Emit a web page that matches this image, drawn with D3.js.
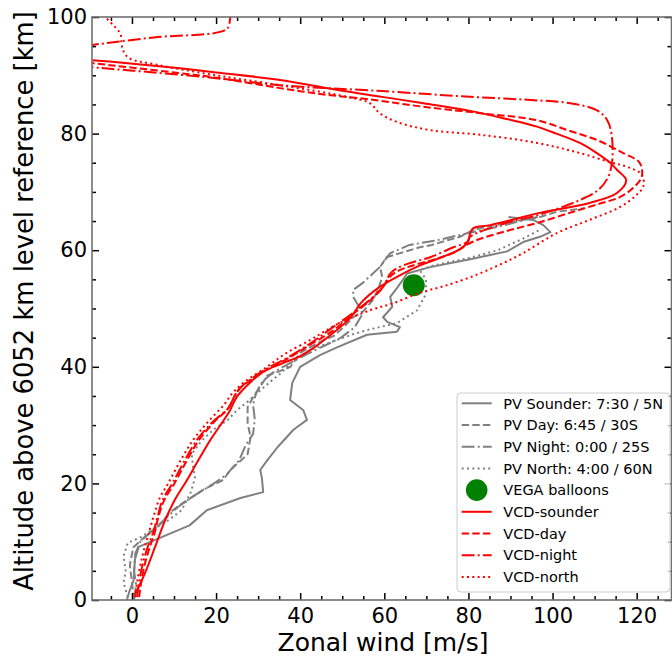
<!DOCTYPE html>
<html>
<head>
<meta charset="utf-8">
<script src="https://cdn.jsdelivr.net/npm/d3@7"></script>
<style>
  body { margin: 0; background: #fff; }
  text { font-family: "DejaVu Sans", sans-serif; }
</style>
</head>
<body>
<svg id="chart" width="672" height="656"></svg>
<script>
// profiles as [zonal wind m/s, altitude km]
var pv_sounder = [[-1.2,0],[-0.6,1.5],[0.4,3.4],[0.7,6.9],[1.6,9.1],[6.5,10.6],[13.7,12.8],[17.8,15.4],[25.8,17.5],[31.2,18.5],[30.9,20.9],[30.5,22.3],[32.2,24],[34.6,26.2],[38.4,29.2],[41.6,30.9],[40.7,32.6],[37.6,34.3],[38.1,37.2],[40,40],[44.7,42],[48.6,43.3],[55.9,45.5],[63,46],[63.7,46.8],[60.7,47.7],[59.7,48.5],[61.9,50.3],[61.4,52],[63,53.5],[64.4,54.9],[65.4,56],[70.9,57.1],[80.7,58.5],[89.2,59.8],[93,61.4],[97,62.3],[99.5,63.1],[97.8,64.3],[95.4,65.2],[89.5,65.7]];
var pv_day = [[0.5,0],[0,3],[-0.5,6],[0.3,9],[3,10.8],[6.5,12.8],[9,15],[11.4,16.3],[16.9,18.9],[21.7,20.6],[23.4,22.3],[27.5,25],[28.2,28],[27.5,30.3],[27.5,33.1],[29,35],[30,36],[32.2,38.5],[35.3,39.3],[37.7,40],[40,42.4],[42.5,43.4],[45.6,44.6],[48,45.3],[50.3,46.8],[52.6,48.5],[55,49.5],[57.3,51.5],[58.5,53.2],[59.5,55.4],[59,57.1],[60.5,58.8],[63.8,59.5],[66.1,60],[68.4,60.5],[71.3,60.9],[75,61.7],[78,62.3],[81.2,63.5],[89,64.7],[97,65.7],[101,66.6],[107.6,67.2]];
var pv_night = [[0.5,0],[1,2.5],[0.5,5],[0.8,8],[2,10],[5,12],[8,14],[11,16],[15,18],[19.5,20],[22.5,21.5],[25.5,24],[27,26.5],[28.8,28.5],[29.2,31],[28.8,33.5],[29.5,35.5],[31,37.5],[33.5,39],[38,40.8],[42,42.3],[46,43.7],[49.7,45],[53,46.8],[54.9,49.2],[52.6,52],[52.6,53.2],[54.9,54.4],[58.9,57.1],[61.4,59.5],[66,60.9],[72.5,61.7],[79.7,62.9],[87,64],[94,65.3],[97,65.8]];
var pv_north = [[-1,0.5],[-2,3],[-1.5,5],[-2,7.5],[-1,9.8],[2.2,10.8],[5.3,12.3],[8.7,13.7],[11.8,15.4],[14,18.5],[15,21],[14.5,23],[14.2,25],[16.5,27.3],[19.5,29.3],[22.7,30.8],[25,32.6],[27.5,34],[30.6,36],[33,37.5],[35.4,38.9],[38.5,41.2],[42.5,42.9],[47.2,44.2],[52.6,45.6],[56.5,46.4],[63,47.5],[67.8,49.7],[69.9,52.5],[69.9,55],[68.4,56.6],[71.3,57.3],[74.3,57.8],[80.4,58.7],[87,60],[93,62],[97,63.5]];
var vega = [[67,54]];
var vcd_sounder = [[0.7,0.9],[3.1,4.6],[5.5,9.1],[7.9,13.7],[10.2,17.2],[13.1,20.6],[15.8,24],[18.6,27.4],[21.5,30.5],[23.3,32.5],[24.9,34.8],[28.1,37.3],[31.1,39.1],[35.8,40.6],[39.9,41.8],[43.1,43.2],[47.8,45.8],[51.8,48.3],[54.5,51],[58.9,53.7],[63.7,55.7],[68.5,57.4],[73.3,58.7],[78,60.2],[79.9,61.4],[80.4,62.9],[81.2,63.8],[85.2,64.3],[97,66.4],[108.8,68.1],[115.3,69.8],[117.5,72],[115.3,73.8],[113.7,75],[109.8,77],[106.5,78.4],[100.9,80],[96.3,81.2],[89.1,82.5],[80.4,83.9],[69.3,85.2],[59.5,86.3],[49.6,87.4],[35.2,89.2],[20,90.5],[11.4,91.2],[0.2,92],[-9.6,92.6],[-20,93.2]];
var vcd_day = [[1.7,0.5],[2.2,3],[3,6],[4.2,9],[5.4,11.5],[6.2,14],[7.6,17],[10.1,20],[13.1,24],[16,27.5],[19.5,30.5],[23,33],[24.4,35],[25.9,36.5],[28.9,38],[32.1,39.5],[36.8,41.3],[42.4,43.8],[47.8,46.2],[52.5,49],[56.5,51.3],[59.5,53.5],[61.4,55.5],[63.4,56.5],[66.4,57.3],[71.3,58.3],[76.3,59.5],[81.2,61.5],[89.1,63.3],[97,64.8],[104.9,66.6],[111.3,68],[116,69.1],[119.2,70.7],[121.2,72.6],[120.7,75],[116.7,76.7],[110.6,78.9],[103.9,80.5],[96.3,82.3],[82.8,83.5],[69.3,84.6],[57.3,85.8],[44.7,86.8],[35.2,87.8],[20,89.6],[11.1,90.4],[0.2,91.3],[-9.6,92.1],[-20,93]];
var vcd_night = [[1.2,0.5],[1.7,3],[2.5,6],[3.7,9],[5,11.5],[6,14],[7.2,17],[9.6,20],[12.6,24],[15.5,27.5],[19,30.4],[23,33],[24.4,35],[25.9,36.5],[28.9,38.2],[32.1,39.7],[36.8,41.5],[42.4,44],[47.8,46.8],[52.5,49.2],[56.6,51.5],[59.7,53.7],[61.4,56],[63,56.9],[66.1,57.8],[70.9,58.8],[76.4,60.5],[79.7,61.4],[80.4,62.3],[89.1,64.7],[96.3,66],[101.9,67.3],[106.8,68.7],[110.8,70.3],[113.2,72.5],[114.2,75.5],[114,80],[113,82.3],[110.6,84],[104.2,85.2],[94,85.8],[80.4,86.3],[59.5,87.3],[35.2,88.3],[20,89.5],[0.2,90.8],[-9.6,91.4],[-30,93.2],[-9.6,95.2],[5.2,96.5],[22.5,97.9],[23.3,99.5],[23.4,101]];
var vcd_north = [[0.7,0.5],[1.2,3],[2,6],[3,9],[4.2,12],[5.2,14.5],[6.6,17.5],[8.6,20],[11.6,24],[14.6,27.5],[18,30.5],[21.9,33.5],[23.9,35.5],[26.4,37.2],[32.1,40],[36.8,42.4],[42.4,44.6],[45.6,46],[49.6,47.6],[56.6,49.7],[62.1,50.9],[68.5,52.7],[74,53.8],[80.2,55.3],[86.8,57.3],[93,59.5],[100.9,62.9],[108.8,65.2],[116,67.4],[119.7,69.3],[121.6,71],[121.2,73],[117.7,74.3],[113.7,75.1],[105.8,76.8],[96.3,78.4],[82.8,79.8],[70.9,80.6],[63,82],[58.9,83.5],[56.6,85.2],[51.2,86.3],[35.2,88.3],[20,90],[6,91.8],[-0.8,93],[-2.1,94.3],[-2.5,95.5],[-2.7,97],[-4.7,98.8],[-6.4,100],[-7.7,101]];

var x_ticks = [0, 20, 40, 60, 80, 100, 120];
var y_ticks = [0, 20, 40, 60, 80, 100];
var legend_labels = ["PV Sounder: 7:30 / 5N", "PV Day: 6:45 / 30S", "PV Night: 0:00 / 25S", "PV North: 4:00 / 60N",
    "VEGA balloons", "VCD-sounder", "VCD-day", "VCD-night", "VCD-north"];

var svg = d3.select("#chart");
var plot_left = 92, plot_right = 672, plot_top = 17, plot_bottom = 600;

var x = d3.scaleLinear().domain([-9.5, 128.4]).range([plot_left, plot_right]);
var y = d3.scaleLinear().domain([0, 100]).range([plot_bottom, plot_top]);

svg.append("defs").append("clipPath").attr("id", "plot-clip")
    .append("rect")
    .attr("x", plot_left).attr("y", plot_top)
    .attr("width", plot_right - plot_left).attr("height", plot_bottom - plot_top);

var dashes = {solid: null, dashed: "7.4,3.2", dashdot: "12.8,3.2,2,3.2", dotted: "2,3.3"};

var series = [
    {data: pv_sounder, color: "#808080", dash: "solid", smooth: false},
    {data: pv_day, color: "#808080", dash: "dashed", smooth: false},
    {data: pv_night, color: "#808080", dash: "dashdot", smooth: false},
    {data: pv_north, color: "#808080", dash: "dotted", smooth: false},
    {data: vcd_sounder, color: "#ff0000", dash: "solid", smooth: true},
    {data: vcd_day, color: "#ff0000", dash: "dashed", smooth: true},
    {data: vcd_night, color: "#ff0000", dash: "dashdot", smooth: true},
    {data: vcd_north, color: "#ff0000", dash: "dotted", smooth: true}
];

var plot = svg.append("g").attr("clip-path", "url(#plot-clip)");

function drawLine(s){
    var line = d3.line()
        .x(function(d){ return x(d[0]); })
        .y(function(d){ return y(d[1]); })
        .curve(s.smooth ? d3.curveCatmullRom.alpha(0.5) : d3.curveLinear);
    plot.append("path")
        .datum(s.data)
        .attr("d", line)
        .attr("fill", "none")
        .attr("stroke", s.color)
        .attr("stroke-width", 2)
        .attr("stroke-linejoin", "round")
        .attr("stroke-dasharray", dashes[s.dash]);
}

series.slice(0, 4).forEach(drawLine);

plot.selectAll("circle.vega")
    .data(vega)
    .enter().append("circle")
    .attr("class", "vega")
    .attr("cx", function(d){ return x(d[0]); })
    .attr("cy", function(d){ return y(d[1]); })
    .attr("r", 11)
    .attr("fill", "#008000");

series.slice(4).forEach(drawLine);

// axes, ticks pointing inward on all four sides
var x_minor = d3.range(-5, 130, 5).filter(function(v){ return v % 20 != 0; });
var y_minor = d3.range(0, 101, 5).filter(function(v){ return v % 20 != 0; });

function styleAxis(g){
    g.select(".domain").remove();
    g.selectAll(".tick line").attr("stroke", "#000").attr("stroke-width", 1.5);
    g.selectAll(".tick text").attr("fill", "#000").attr("font-size", "21px")
        .attr("font-family", "DejaVu Sans, sans-serif");
}

svg.append("g").attr("transform", "translate(0," + plot_bottom + ")")
    .call(d3.axisBottom(x).tickValues(x_ticks).tickSize(-7).tickPadding(8).tickFormat(d3.format("d")))
    .call(styleAxis);
svg.append("g").attr("transform", "translate(0," + plot_bottom + ")")
    .call(d3.axisBottom(x).tickValues(x_minor).tickSize(-4).tickFormat(""))
    .call(styleAxis);
svg.append("g").attr("transform", "translate(0," + plot_top + ")")
    .call(d3.axisTop(x).tickValues(x_ticks).tickSize(-7).tickFormat(""))
    .call(styleAxis);
svg.append("g").attr("transform", "translate(0," + plot_top + ")")
    .call(d3.axisTop(x).tickValues(x_minor).tickSize(-4).tickFormat(""))
    .call(styleAxis);

svg.append("g").attr("transform", "translate(" + plot_left + ",0)")
    .call(d3.axisLeft(y).tickValues(y_ticks).tickSize(-7).tickPadding(5).tickFormat(d3.format("d")))
    .call(styleAxis);
svg.append("g").attr("transform", "translate(" + plot_left + ",0)")
    .call(d3.axisLeft(y).tickValues(y_minor).tickSize(-4).tickFormat(""))
    .call(styleAxis);
svg.append("g").attr("transform", "translate(" + (plot_right - 0.5) + ",0)")
    .call(d3.axisRight(y).tickValues(y_ticks).tickSize(-7).tickFormat(""))
    .call(styleAxis);
svg.append("g").attr("transform", "translate(" + (plot_right - 0.5) + ",0)")
    .call(d3.axisRight(y).tickValues(y_minor).tickSize(-4).tickFormat(""))
    .call(styleAxis);

svg.append("rect")
    .attr("x", plot_left).attr("y", plot_top)
    .attr("width", plot_right - plot_left - 0.5).attr("height", plot_bottom - plot_top)
    .attr("fill", "none")
    .attr("stroke", "#707070")
    .attr("stroke-width", 1.6);

// axis titles
svg.append("text")
    .attr("x", 383).attr("y", 651)
    .attr("text-anchor", "middle")
    .attr("font-size", "25px")
    .text("Zonal wind [m/s]");

svg.append("text")
    .attr("transform", "translate(33,301) rotate(-90)")
    .attr("text-anchor", "middle")
    .attr("font-size", "25.8px")
    .text("Altitude above 6052 km level reference [km]");

// legend
var legend = svg.append("g");
legend.append("rect")
    .attr("x", 457).attr("y", 393)
    .attr("width", 213).attr("height", 199)
    .attr("rx", 4)
    .attr("fill", "#fff").attr("fill-opacity", 0.8)
    .attr("stroke", "#cccccc").attr("stroke-width", 1);

var legend_styles = series.slice(0, 4).concat([{marker: true}]).concat(series.slice(4));

legend_styles.forEach(function(s, i){
    var cy = 403.3 + i * 21.7;
    if (s.marker){
        legend.append("circle")
            .attr("cx", 476.7).attr("cy", cy).attr("r", 10.8)
            .attr("fill", "#008000");
    } else {
        legend.append("line")
            .attr("x1", 461.7).attr("x2", 491.7)
            .attr("y1", cy).attr("y2", cy)
            .attr("stroke", s.color)
            .attr("stroke-width", 2)
            .attr("stroke-dasharray", dashes[s.dash]);
    }
    legend.append("text")
        .attr("x", 503.3).attr("y", cy)
        .attr("dy", "0.36em")
        .attr("font-size", "14.5px")
        .text(legend_labels[i]);
});
</script>
</body>
</html>
